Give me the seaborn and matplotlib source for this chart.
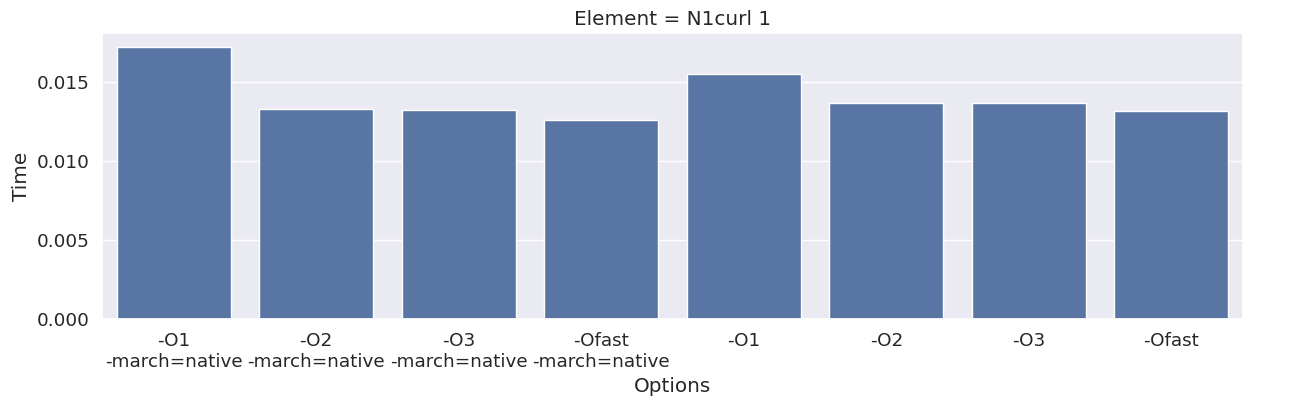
import pandas as pd
import matplotlib
matplotlib.use("Agg")
import matplotlib.pyplot as plt
import seaborn as sns

# values
options = ["-O1\n-march=native", "-O2\n-march=native", "-O3\n-march=native", "-Ofast\n-march=native",
           "-O1", "-O2", "-O3", "-Ofast"]
times = [0.01722, 0.01331, 0.01322, 0.01261, 0.01548, 0.01363, 0.01363, 0.01318]
element = "N1curl 1"

df = pd.DataFrame({"Options": options, "Time": times})

sns.set_theme(font_scale=1.2)

fig = plt.figure(figsize=(13.04, 4.05), dpi=100)
ax = fig.add_axes([0.0785, 0.212, 0.8745, 0.7065])
sns.barplot(x="Options", y="Time", data=df, color="#4c72b0", errorbar=None, ax=ax)
ax.set_title(f"Element = {element}")
ax.set_xlabel("Options")
ax.set_ylabel("Time")
ax.set_yticks([0.0, 0.005, 0.010, 0.015])
ax.set_yticklabels(["0.000", "0.005", "0.010", "0.015"])

fig.savefig("out.png", dpi=100)
